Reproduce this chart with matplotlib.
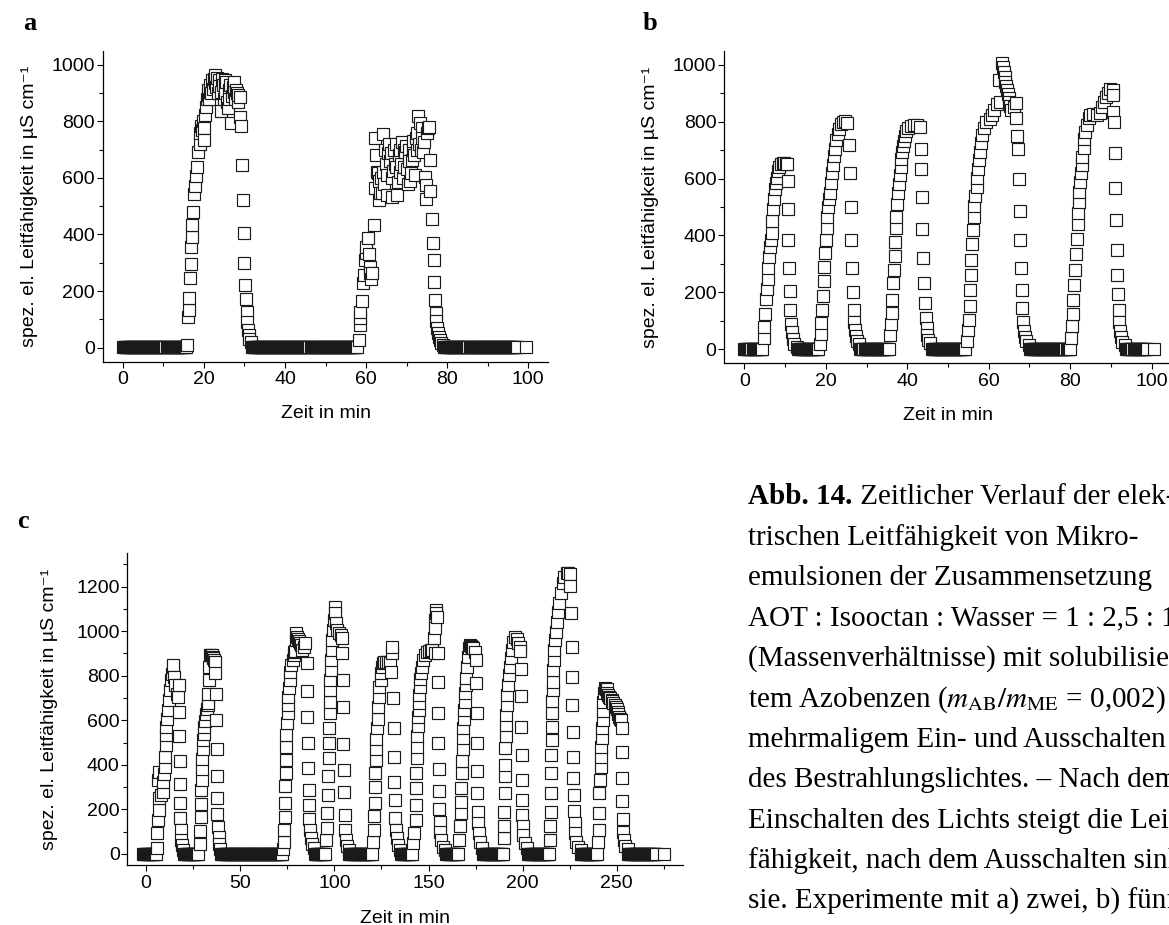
import numpy as np
import matplotlib
matplotlib.use('Agg')
import matplotlib.pyplot as plt
from matplotlib.ticker import MultipleLocator

plt.rcParams['font.family'] = ['Liberation Sans', 'DejaVu Sans']
plt.rcParams['mathtext.fontset'] = 'stix'

# ---------------- data (time in min, conductivity in uS/cm) ----------------
base_level = 2

# panel a: two light cycles
a_peak1 = [(15.9, 8), (16.0, 108), (16.25, 134), (16.4, 175), (16.6, 246), (16.7, 296),
           (16.8, 355), (17.0, 390), (17.1, 433), (17.3, 478), (17.6, 542), (17.8, 572),
           (18.1, 608), (18.3, 640), (18.5, 690), (18.9, 721), (19.1, 760), (19.3, 782),
           (19.5, 770), (19.7, 800), (19.9, 775), (20.1, 734), (20.3, 823), (20.5, 850),
           (20.7, 879), (20.9, 895), (21.1, 912), (21.3, 880), (21.5, 905), (21.6, 929),
           (21.8, 900), (22.0, 945), (22.2, 915), (22.4, 950), (22.6, 935), (22.8, 965),
           (23.0, 920), (23.2, 955), (23.4, 900), (23.6, 946), (23.8, 925), (24.1, 835),
           (24.3, 905), (24.5, 950), (24.7, 930), (24.9, 880), (25.1, 945), (25.3, 900),
           (25.5, 941), (25.7, 870), (25.9, 846), (26.1, 910), (26.3, 880), (26.5, 930),
           (26.7, 795), (26.9, 890), (27.1, 920), (27.3, 940), (27.5, 905), (27.7, 880),
           (27.9, 911), (28.1, 900), (28.3, 870), (28.5, 895), (28.8, 885), (29.0, 816),
           (29.2, 783), (29.5, 645), (29.6, 521), (29.8, 405), (30.0, 299), (30.1, 222),
           (30.3, 173), (30.5, 125), (30.7, 90), (30.8, 63), (31.0, 43), (31.2, 31),
           (31.5, 21)]
a_peak2 = [(58.2, 26), (58.4, 79), (58.5, 103), (58.6, 126), (58.9, 165), (59.3, 227),
           (59.4, 256), (59.7, 309), (59.9, 333), (60.1, 356), (60.5, 389), (60.7, 330),
           (60.9, 286), (61.1, 262), (61.3, 244), (61.6, 265), (61.9, 433), (62.1, 563),
           (62.3, 740), (62.5, 681), (62.7, 620), (62.9, 616), (63.1, 590), (63.3, 522),
           (63.5, 545), (63.7, 600), (63.9, 545), (64.1, 620), (64.3, 757), (64.5, 580),
           (64.7, 700), (64.9, 650), (65.1, 610), (65.3, 540), (65.5, 688), (65.7, 720),
           (65.9, 660), (66.1, 688), (66.3, 600), (66.5, 534), (66.7, 625), (66.9, 700),
           (67.1, 650), (67.3, 720), (67.5, 640), (67.7, 541), (67.9, 585), (68.1, 680),
           (68.3, 620), (68.5, 700), (68.7, 650), (68.9, 726), (69.1, 600), (69.3, 700),
           (69.5, 640), (69.7, 690), (69.9, 714), (70.1, 630), (70.3, 580), (70.5, 700),
           (70.7, 660), (70.9, 588), (71.1, 617), (71.3, 664), (71.5, 700), (71.7, 730),
           (71.9, 680), (72.1, 610), (72.3, 740), (72.5, 700), (72.7, 760), (72.9, 819),
           (73.1, 720), (73.3, 795), (73.5, 700), (73.7, 777), (73.9, 740), (74.1, 690),
           (74.3, 726), (74.5, 605), (74.7, 576), (74.9, 525), (75.1, 760), (75.3, 777),
           (75.5, 780), (75.7, 664), (75.9, 552), (76.3, 453), (76.5, 371), (76.7, 310),
           (76.9, 232), (77.0, 167), (77.2, 123), (77.4, 94), (77.6, 70), (77.8, 53),
           (78.0, 38), (78.2, 27), (78.6, 17), (79.0, 10)]
a_baseline = [(0.0, 15.6), (31.8, 58.0), (79.3, 97.3)]
a_last = [(99.4, 2)]
a_step = 0.25

# panel b: five light cycles
b_peak1 = [(4.7, 38), (4.9, 79), (5.1, 125), (5.3, 178), (5.55, 213), (5.7, 245),
           (5.9, 287), (6.1, 324), (6.4, 358), (6.5, 383), (6.7, 410), (6.9, 451),
           (7.1, 492), (7.2, 528), (7.5, 563), (7.8, 583), (7.9, 601), (8.2, 625),
           (8.6, 642), (9.0, 652), (9.4, 655), (9.8, 654), (10.2, 653), (10.5, 650),
           (10.6, 590), (10.7, 492), (10.8, 384), (10.9, 287), (11.1, 204), (11.3, 139),
           (11.45, 90), (11.6, 60), (11.9, 36), (12.3, 18), (12.9, 7)]
b_peak2 = [(18.6, 18), (18.8, 53), (18.9, 91), (19.1, 136), (19.3, 187), (19.5, 239),
           (19.65, 289), (19.8, 339), (20.0, 383), (20.2, 426), (20.4, 465), (20.6, 501),
           (20.8, 527), (21.0, 550), (21.2, 583), (21.4, 618), (21.7, 647), (22.0, 679),
           (22.3, 705), (22.6, 735), (22.9, 758), (23.3, 776), (23.8, 791), (24.3, 799),
           (24.8, 802), (25.3, 795), (25.8, 718), (26.0, 618), (26.2, 501), (26.3, 384),
           (26.5, 284), (26.7, 202), (26.8, 139), (27.0, 96), (27.2, 66), (27.3, 45),
           (27.6, 29), (28.2, 17)]
b_peak3 = [(35.8, 49), (35.9, 90), (36.2, 126), (36.3, 173), (36.5, 232), (36.75, 279),
           (36.9, 326), (37.0, 378), (37.2, 425), (37.3, 466), (37.6, 511), (37.7, 551),
           (37.97, 582), (38.1, 613), (38.4, 642), (38.5, 668), (38.8, 692), (38.96, 713),
           (39.2, 733), (39.4, 750), (39.8, 766), (40.2, 778), (40.8, 786), (41.6, 789),
           (42.5, 790), (43.1, 782), (43.3, 704), (43.4, 633), (43.6, 535), (43.7, 422),
           (43.9, 320), (44.1, 234), (44.3, 163), (44.5, 111), (44.8, 73), (44.9, 49),
           (45.2, 31), (45.7, 20)]
b_peak4 = [(54.7, 29), (54.9, 66), (55.1, 104), (55.3, 151), (55.45, 208), (55.55, 259),
           (55.7, 313), (55.9, 369), (56.1, 419), (56.3, 466), (56.5, 504), (56.7, 540),
           (57.0, 572), (57.1, 601), (57.3, 633), (57.5, 666), (57.8, 695), (58.1, 725),
           (58.4, 754), (58.8, 778), (59.4, 798), (60.2, 811), (60.8, 825), (61.4, 843),
           (62.0, 863), (62.4, 947), (62.7, 870), (63.3, 1005), (63.5, 993), (63.7, 976),
           (63.9, 958), (64.1, 940), (64.3, 925), (64.5, 911), (64.7, 896), (64.9, 884),
           (65.1, 870), (65.3, 854), (65.5, 840), (66.1, 852), (66.7, 866), (66.8, 812),
           (66.95, 749), (67.1, 704), (67.4, 600), (67.6, 487), (67.8, 383), (68.0, 285),
           (68.1, 209), (68.2, 144), (68.4, 97), (68.6, 62), (68.8, 42), (69.1, 27),
           (69.8, 15)]
b_peak5 = [(80.2, 38), (80.4, 81), (80.6, 123), (80.8, 173), (81.0, 225), (81.1, 280),
           (81.4, 334), (81.6, 386), (81.8, 440), (82.0, 480), (82.1, 518), (82.2, 554),
           (82.5, 589), (82.6, 618), (82.8, 648), (83.0, 677), (83.3, 707), (83.5, 738),
           (83.7, 765), (84.1, 789), (84.5, 812), (84.9, 824), (85.7, 826), (86.5, 824),
           (87.3, 830), (87.9, 853), (88.3, 870), (88.7, 888), (89.2, 902), (89.8, 914),
           (90.4, 911), (90.45, 893), (90.6, 835), (90.7, 800), (90.9, 690), (91.0, 568),
           (91.2, 453), (91.4, 347), (91.5, 259), (91.7, 195), (91.9, 139), (92.0, 96),
           (92.2, 64), (92.5, 43), (92.8, 26), (93.5, 15)]
b_baseline = [(0.0, 4.3), (13.2, 18.3), (28.5, 35.5), (46.0, 54.4), (70.1, 79.9),
              (93.8, 99.0)]
b_last = [(100.7, 2)]
b_step = 0.25

# panel c: ten light cycles
c_peak1 = [(5.7, 25), (6.0, 92), (6.3, 152), (6.5, 332), (6.7, 369), (6.9, 197),
           (7.1, 250), (8.0, 265), (8.8, 279), (9.1, 323), (9.6, 360), (9.9, 390),
           (10.1, 435), (10.3, 488), (10.6, 533), (10.8, 570), (11.3, 607), (11.8, 645),
           (12.3, 690), (12.7, 735), (13.1, 780), (13.6, 810), (14.2, 840), (14.5, 850),
           (14.9, 795), (15.5, 760), (16.3, 720), (16.8, 705), (17.2, 757), (17.5, 637),
           (17.6, 528), (17.8, 416), (17.9, 312), (18.0, 229), (18.1, 161), (18.4, 109),
           (18.6, 64), (18.9, 39), (19.4, 16)]
c_peak2 = [(28.4, 46), (28.7, 102), (29.0, 165), (29.2, 225), (29.4, 285), (29.5, 330),
           (29.8, 382), (29.9, 427), (30.2, 472), (30.4, 510), (30.7, 540), (30.9, 570),
           (31.3, 597), (31.8, 630), (32.2, 652), (32.6, 668), (33.0, 678), (33.1, 720),
           (33.4, 780), (33.6, 840), (33.9, 893), (34.3, 895), (34.8, 893), (35.3, 885),
           (35.7, 878), (36.2, 870), (36.6, 863), (36.8, 811), (37.0, 720), (37.2, 601),
           (37.4, 469), (37.6, 349), (37.8, 249), (37.9, 177), (38.2, 121), (38.5, 76),
           (38.8, 46), (39.4, 24)]
c_peak3 = [(72.6, 20), (73.0, 55), (73.3, 107), (73.5, 164), (73.7, 227), (73.9, 305),
           (74.1, 362), (74.3, 421), (74.4, 481), (74.5, 534), (74.8, 586), (75.1, 631),
           (75.3, 668), (75.6, 706), (75.9, 743), (76.2, 781), (76.6, 818), (77.1, 848),
           (77.8, 871), (78.3, 893), (78.8, 905), (79.2, 913), (79.5, 991), (79.8, 961),
           (80.1, 976), (80.5, 965), (81.0, 954), (81.7, 945), (82.4, 939), (82.8, 916),
           (83.6, 930), (84.6, 946), (85.2, 856), (85.5, 733), (85.7, 613), (85.8, 496),
           (86.1, 384), (86.3, 289), (86.5, 219), (86.7, 155), (87.2, 107), (87.6, 70),
           (88.1, 44), (89.0, 25)]
c_peak4 = [(95.7, 63), (96.0, 115), (96.3, 183), (96.5, 265), (96.8, 350), (97.0, 429),
           (97.2, 497), (97.35, 564), (97.5, 631), (97.6, 684), (97.8, 736), (97.9, 781),
           (98.2, 826), (98.4, 871), (98.6, 916), (98.8, 961), (99.0, 1005), (99.6, 1050),
           (100.1, 1110), (100.5, 1080), (101.0, 1035), (101.4, 1005), (102.3, 990),
           (103.5, 983), (104.0, 968), (104.1, 901), (104.4, 781), (104.5, 661),
           (104.8, 492), (104.95, 377), (105.2, 280), (105.4, 175), (105.7, 107),
           (106.1, 63), (106.7, 34), (107.6, 19)]
c_peak5 = [(120.6, 55), (120.9, 108), (121.2, 168), (121.35, 230), (121.5, 302),
           (121.7, 362), (121.85, 422), (122.1, 470), (122.3, 514), (122.7, 564),
           (123.0, 608), (123.2, 661), (123.6, 706), (123.9, 748), (124.5, 781),
           (124.8, 811), (125.3, 840), (125.9, 858), (126.6, 863), (127.5, 862),
           (128.5, 860), (129.4, 858), (130.2, 818), (130.5, 900), (130.7, 930),
           (131.0, 699), (131.4, 564), (131.6, 437), (131.8, 325), (132.0, 242),
           (132.3, 160), (132.5, 108), (133.0, 70), (133.7, 40), (135.1, 18)]
c_peak6 = [(141.8, 47), (142.5, 92), (143.1, 152), (143.3, 219), (143.4, 294),
           (143.6, 362), (143.9, 429), (144.0, 482), (144.1, 530), (144.3, 575),
           (144.4, 613), (144.8, 646), (144.9, 679), (145.2, 714), (145.4, 751),
           (145.7, 784), (146.1, 814), (146.6, 841), (147.2, 871), (147.9, 893),
           (149.1, 908), (150.3, 913), (151.2, 915), (152.0, 916), (153.0, 968),
           (153.3, 900), (153.5, 1050), (153.7, 1013), (153.8, 1095), (154.2, 1080),
           (154.7, 1065), (154.8, 900), (155.0, 773), (155.1, 634), (155.2, 499),
           (155.3, 380), (155.5, 284), (155.6, 202), (155.9, 142), (156.1, 97),
           (156.8, 63), (157.8, 33), (159.0, 18)]
c_peak7 = [(166.1, 63), (166.5, 123), (167.0, 182), (167.3, 235), (167.5, 294),
           (167.8, 362), (168.0, 417), (168.2, 470), (168.35, 519), (168.5, 564),
           (168.7, 604), (168.9, 646), (169.2, 683), (169.3, 721), (169.7, 758),
           (170.1, 788), (170.6, 840), (171.0, 885), (171.5, 923), (172.1, 938),
           (172.5, 935), (173.0, 930), (173.8, 923), (174.7, 908), (175.0, 871),
           (175.3, 766), (175.5, 634), (175.6, 499), (175.8, 374), (175.95, 272),
           (176.3, 190), (176.5, 137), (176.8, 92), (177.3, 55), (178.6, 25)]
c_peak8 = [(190.0, 70), (190.1, 123), (190.3, 190), (190.4, 275), (190.5, 350),
           (190.6, 399), (190.8, 474), (190.95, 530), (191.2, 579), (191.3, 624),
           (191.5, 669), (191.8, 714), (192.2, 758), (192.7, 803), (193.3, 840),
           (194.0, 878), (194.5, 916), (195.1, 953), (195.8, 976), (196.9, 964),
           (197.6, 949), (198.4, 930), (198.7, 913), (199.0, 829), (199.1, 709),
           (199.3, 572), (199.4, 445), (199.6, 332), (199.8, 242), (199.9, 175),
           (200.3, 123), (200.4, 85), (201.2, 48), (202.5, 25)]
c_peak9 = [(214.5, 63), (214.7, 123), (214.8, 190), (214.95, 272), (215.2, 365),
           (215.3, 444), (215.4, 512), (215.5, 572), (215.7, 632), (215.8, 688),
           (216.0, 736), (216.1, 773), (216.2, 826), (216.4, 871), (216.7, 916),
           (217.1, 961), (217.6, 998), (218.1, 1043), (218.9, 1088), (219.4, 1125),
           (220.3, 1170), (221.2, 1215), (222.0, 1245), (223.4, 1260), (224.3, 1262),
           (225.2, 1257), (225.4, 1203), (225.8, 1080), (226.0, 927), (226.2, 796),
           (226.4, 669), (226.6, 549), (226.8, 437), (226.9, 342), (227.2, 264),
           (227.3, 194), (227.6, 137), (227.8, 92), (228.5, 55), (229.4, 33), (230.8, 18)]
c_peak10 = [(240.1, 55), (240.3, 108), (240.5, 182), (240.7, 272), (241.2, 332),
            (241.4, 389), (241.6, 437), (241.8, 482), (242.0, 522), (242.3, 564),
            (242.45, 601), (242.7, 643), (242.9, 684), (243.3, 721), (243.6, 743),
            (244.2, 742), (244.7, 739), (245.0, 721), (245.5, 712), (245.9, 706),
            (246.5, 698), (247.2, 691), (247.7, 685), (248.2, 679), (248.8, 670),
            (249.5, 661), (250.0, 650), (250.4, 638), (250.8, 628), (251.3, 616),
            (251.8, 608), (252.2, 601), (252.5, 564), (252.65, 459), (252.8, 342),
            (252.95, 239), (253.1, 157), (253.4, 100), (253.6, 63), (254.3, 37),
            (255.7, 21)]
c_baseline = [(-1.5, 5.2), (20.0, 27.8), (40.0, 72.2), (89.5, 95.2), (108.0, 120.2),
              (135.5, 141.3), (159.5, 165.6), (179.0, 189.6), (203.0, 214.2),
              (231.0, 239.8), (256.0, 271.3)]
c_last = [(275.2, 0)]
c_step = 0.5

ylabel = 'spez. el. Leitfähigkeit in µS cm⁻¹'
xlabel = 'Zeit in min'

caption_head = 'Abb. 14.'
caption = [
    ' Zeitlicher Verlauf der elek-',
    'trischen Leitfähigkeit von Mikro-',
    'emulsionen der Zusammensetzung',
    'AOT : Isooctan : Wasser = 1 : 2,5 : 1',
    '(Massenverhältnisse) mit solubilisier-',
    r'tem Azobenzen ($m_{\mathrm{AB}}/m_{\mathrm{ME}}$ = 0,002) bei',
    'mehrmaligem Ein- und Ausschalten',
    'des Bestrahlungslichtes. – Nach dem',
    'Einschalten des Lichts steigt die Leit-',
    'fähigkeit, nach dem Ausschalten sinkt',
    'sie. Experimente mit a) zwei, b) fünf',
]


def series(peaks, runs, step, level, extra):
    pts = [p for peak in peaks for p in peak] + list(extra)
    for t0, t1 in runs:
        for t in np.arange(t0, t1 + 1e-9, step):
            pts.append((t, level))
    pts.sort()
    t, v = zip(*pts)
    return t, v


def style(ax, xlim, ylim, xmaj, ymaj, xpad, ypad):
    ax.set_xlim(*xlim)
    ax.set_ylim(*ylim)
    ax.spines['top'].set_visible(False)
    ax.spines['right'].set_visible(False)
    ax.spines['left'].set_linewidth(0.9)
    ax.spines['bottom'].set_linewidth(0.9)
    ax.xaxis.set_major_locator(MultipleLocator(xmaj))
    ax.xaxis.set_minor_locator(MultipleLocator(xmaj / 2))
    ax.yaxis.set_major_locator(MultipleLocator(ymaj))
    ax.yaxis.set_minor_locator(MultipleLocator(ymaj / 2))
    ax.tick_params(which='both', direction='out', width=0.8, labelsize=14)
    ax.tick_params(which='major', length=4.5)
    ax.tick_params(which='minor', length=3)
    ax.tick_params(axis='y', which='both', pad=1)
    ax.tick_params(axis='x', which='both', pad=2.5)
    ax.set_ylabel(ylabel, fontsize=14, labelpad=ypad)
    ax.set_xlabel(xlabel, fontsize=14, labelpad=xpad)


def draw(ax, t, v):
    ax.plot(t, v, ls='none', marker='s', ms=9.3, mfc='white', mec='#1a1a1a', mew=0.85)


W, H = 1169, 925
fig = plt.figure(figsize=(W / 100, H / 100), dpi=100)

ax_a = fig.add_axes([102.7 / W, 1 - 361.7 / H, 445.6 / W, 311.0 / H])
ax_b = fig.add_axes([724.0 / W, 1 - 363.3 / H, 448.0 / W, 312.6 / H])
ax_c = fig.add_axes([127.3 / W, 1 - 865.0 / H, 555.4 / W, 311.7 / H])

ta, va = series([a_peak1, a_peak2], a_baseline, a_step, base_level, a_last)
tb, vb = series([b_peak1, b_peak2, b_peak3, b_peak4, b_peak5], b_baseline, b_step,
                base_level, b_last)
tc, vc = series([c_peak1, c_peak2, c_peak3, c_peak4, c_peak5, c_peak6, c_peak7,
                 c_peak8, c_peak9, c_peak10], c_baseline, c_step, 0, c_last)

draw(ax_a, ta, va)
draw(ax_b, tb, vb)
draw(ax_c, tc, vc)

style(ax_a, (-5, 105), (-50, 1050), 20, 200, 12, 10)
style(ax_b, (-5, 105), (-50, 1050), 20, 200, 12, 10)
style(ax_c, (-10, 285), (-50, 1350), 50, 200, 13, 13)

serif = 'Liberation Serif'
fig.text(23 / W, 1 - 30 / H, 'a', family=serif, weight='bold', fontsize=19, va='baseline')
fig.text(643 / W, 1 - 30 / H, 'b', family=serif, weight='bold', fontsize=19, va='baseline')
fig.text(17 / W, 1 - 528 / H, 'c', family=serif, weight='bold', fontsize=19, va='baseline')

# caption, running off the right edge like in the page scan
cap_size = 21
x0 = 748.3 / W
head = fig.text(x0, 1 - 504.3 / H, caption_head, family=serif, weight='bold',
                fontsize=cap_size, va='baseline')
fig.canvas.draw()
bb = head.get_window_extent()
fig.text(bb.x1 / W, 1 - 504.3 / H, caption[0], family=serif, fontsize=cap_size,
         va='baseline')
for i, line in enumerate(caption[1:], start=1):
    fig.text(x0, 1 - (504.3 + 40.4 * i) / H, line, family=serif, fontsize=cap_size,
             va='baseline')

fig.savefig('out.png', dpi=100)
